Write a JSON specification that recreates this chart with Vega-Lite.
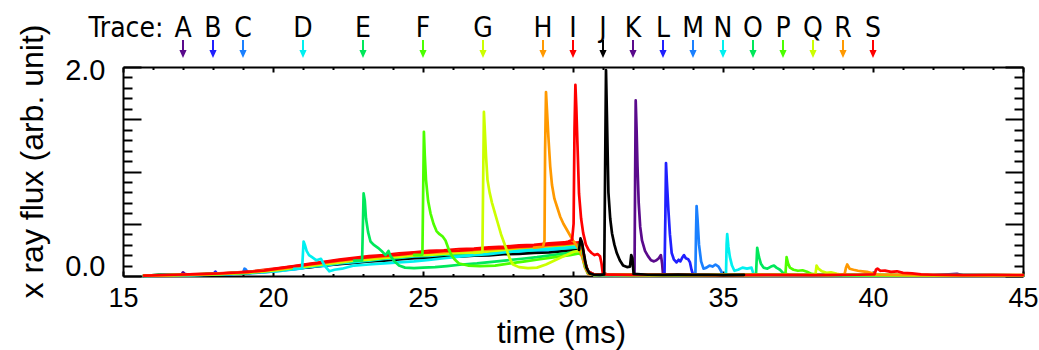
{
  "$schema": "https://vega.github.io/schema/vega-lite/v6.json",
  "width": 900,
  "height": 209,
  "autosize": {"type": "none"},
  "padding": {"left": 123, "top": 67, "right": 16, "bottom": 74},
  "background": "white",
  "config": {
    "view": {"stroke": null},
    "font": "Liberation Sans",
    "axis": {"grid": false, "domainColor": "black", "tickColor": "black", "labelColor": "black", "titleColor": "black", "labelFont": "Liberation Sans", "titleFont": "Liberation Sans", "titleFontWeight": "normal"}
  },
  "datasets": {
    "wide": [
      {"t":15.7,"A":0.003,"B":0.002,"C":0.004,"D":0.001,"E":0.003,"F":0.002,"G":0.004,"H":0.003,"I":0.004,"J":0.002,"K":0.003,"L":0.001,"M":0.003,"N":0.002,"O":0.004,"P":0.003,"Q":0.002,"R":0.004,"S":0.003},
      {"t":16.2,"A":0.006,"B":0.004,"C":0.008,"D":0.003,"E":0.007,"F":0.005,"G":0.009,"H":0.004,"I":0.007,"J":0.012,"K":0.005,"L":0.006,"M":0.003,"N":0.007,"O":0.005,"P":0.008,"Q":0.004,"R":0.006,"S":0.007},
      {"t":16.7,"A":0.012,"B":0.007,"C":0.006,"D":0.009,"E":0.010,"F":0.006,"G":0.008,"H":0.011,"I":0.010,"J":0.007,"K":0.009,"L":0.012,"M":0.006,"N":0.008,"O":0.010,"P":0.007,"Q":0.011,"R":0.009,"S":0.012},
      {"t":16.95,"A":0.014},
      {"t":17.0,"A":0.035},
      {"t":17.06,"A":0.02},
      {"t":17.2,"A":0.009,"B":0.013,"C":0.010,"D":0.008,"E":0.014,"F":0.012,"G":0.009,"H":0.013,"I":0.015,"J":0.010,"K":0.012,"L":0.011,"M":0.014,"N":0.009,"O":0.012,"P":0.013,"Q":0.010,"R":0.014,"S":0.016},
      {"t":17.7,"A":0.016,"B":0.012,"C":0.013,"D":0.011,"E":0.015,"F":0.017,"G":0.013,"H":0.016,"I":0.019,"J":0.012,"K":0.015,"L":0.017,"M":0.013,"N":0.014,"O":0.012,"P":0.018,"Q":0.015,"R":0.016,"S":0.020},
      {"t":18.0,"B":0.015},
      {"t":18.08,"B":0.042},
      {"t":18.14,"B":0.02},
      {"t":18.2,"A":0.020,"B":0.018,"C":0.016,"D":0.015,"E":0.021,"F":0.019,"G":0.020,"H":0.022,"I":0.025,"J":0.017,"K":0.019,"L":0.022,"M":0.020,"N":0.017,"O":0.019,"P":0.021,"Q":0.018,"R":0.023,"S":0.024},
      {"t":18.7,"A":0.027,"B":0.023,"C":0.021,"D":0.020,"E":0.028,"F":0.026,"G":0.024,"H":0.029,"I":0.032,"J":0.022,"K":0.027,"L":0.028,"M":0.025,"N":0.022,"O":0.024,"P":0.027,"Q":0.026,"R":0.030,"S":0.031},
      {"t":19.0,"C":0.03},
      {"t":19.05,"C":0.07},
      {"t":19.1,"C":0.06},
      {"t":19.16,"C":0.034},
      {"t":19.2,"A":0.035,"B":0.031,"C":0.028,"D":0.027,"E":0.036,"F":0.037,"G":0.033,"H":0.036,"I":0.041,"J":0.029,"K":0.034,"L":0.037,"M":0.035,"N":0.030,"O":0.032,"P":0.036,"Q":0.033,"R":0.038,"S":0.040},
      {"t":19.7,"A":0.048,"B":0.040,"C":0.034,"D":0.036,"E":0.046,"F":0.051,"G":0.042,"H":0.048,"I":0.058,"J":0.043,"K":0.045,"L":0.052,"M":0.042,"N":0.041,"O":0.047,"P":0.047,"Q":0.044,"R":0.054,"S":0.052},
      {"t":20.2,"A":0.060,"B":0.050,"C":0.050,"D":0.046,"E":0.066,"F":0.063,"G":0.056,"H":0.068,"I":0.075,"J":0.056,"K":0.060,"L":0.064,"M":0.057,"N":0.054,"O":0.061,"P":0.067,"Q":0.059,"R":0.066,"S":0.073},
      {"t":20.7,"A":0.081,"B":0.071,"C":0.062,"D":0.068,"E":0.080,"F":0.084,"G":0.074,"H":0.082,"I":0.094,"J":0.072,"K":0.078,"L":0.087,"M":0.079,"N":0.066,"O":0.075,"P":0.081,"Q":0.080,"R":0.085,"S":0.092},
      {"t":21.2,"A":0.095,"B":0.086,"C":0.085,"E":0.101,"F":0.100,"G":0.096,"H":0.104,"I":0.116,"J":0.082,"K":0.096,"L":0.102,"M":0.094,"N":0.088,"O":0.096,"P":0.104,"Q":0.095,"R":0.108,"S":0.111},
      {"t":21.7,"A":0.116,"B":0.105,"C":0.096,"E":0.114,"F":0.122,"G":0.108,"H":0.123,"I":0.136,"J":0.101,"K":0.113,"L":0.124,"M":0.115,"N":0.100,"O":0.108,"P":0.118,"Q":0.114,"R":0.122,"S":0.130},
      {"t":22.2,"A":0.128,"B":0.118,"C":0.116,"E":0.135,"F":0.135,"G":0.130,"H":0.137,"I":0.156,"J":0.114,"K":0.134,"L":0.139,"M":0.129,"N":0.120,"O":0.129,"P":0.140,"Q":0.128,"R":0.145,"S":0.149},
      {"t":22.7,"A":0.149,"B":0.137,"C":0.128,"E":0.148,"F":0.156,"G":0.142,"H":0.159,"I":0.174,"J":0.125,"K":0.148,"L":0.159,"M":0.150,"N":0.132,"O":0.144,"P":0.153,"Q":0.149,"R":0.158,"S":0.167},
      {"t":23.2,"A":0.158,"B":0.154,"C":0.143,"F":0.170,"G":0.155,"H":0.168,"I":0.190,"J":0.139,"K":0.164,"L":0.169,"M":0.167,"N":0.148,"O":0.153,"P":0.170,"Q":0.157,"R":0.177,"S":0.181},
      {"t":23.7,"A":0.174,"B":0.162,"C":0.151,"F":0.178,"G":0.171,"H":0.185,"I":0.200,"J":0.146,"K":0.173,"L":0.186,"M":0.176,"N":0.164,"O":0.169,"P":0.179,"Q":0.174,"R":0.186,"S":0.194},
      {"t":24.2,"A":0.182,"B":0.177,"C":0.166,"F":0.194,"G":0.180,"H":0.193,"I":0.217,"J":0.159,"K":0.190,"L":0.195,"M":0.191,"N":0.172,"O":0.178,"P":0.195,"Q":0.182,"R":0.203,"S":0.204},
      {"t":24.7,"A":0.197,"B":0.185,"C":0.174,"F":0.203,"G":0.194,"H":0.210,"I":0.227,"J":0.170,"K":0.198,"L":0.212,"M":0.200,"N":0.188,"O":0.194,"P":0.204,"Q":0.198,"R":0.212,"S":0.222},
      {"t":25.2,"A":0.202,"B":0.197,"C":0.185,"G":0.204,"H":0.214,"I":0.240,"J":0.172,"K":0.210,"L":0.216,"M":0.212,"N":0.192,"O":0.202,"P":0.216,"Q":0.202,"R":0.224,"S":0.226},
      {"t":25.7,"A":0.214,"B":0.202,"C":0.197,"G":0.207,"H":0.227,"I":0.245,"J":0.183,"K":0.214,"L":0.229,"M":0.216,"N":0.204,"O":0.206,"P":0.225,"Q":0.214,"R":0.229,"S":0.239},
      {"t":26.2,"A":0.217,"B":0.212,"C":0.200,"G":0.219,"H":0.230,"I":0.258,"J":0.185,"K":0.226,"L":0.232,"M":0.228,"N":0.206,"O":0.217,"P":0.228,"Q":0.221,"R":0.241,"S":0.243},
      {"t":26.7,"A":0.228,"B":0.215,"C":0.210,"G":0.222,"H":0.242,"I":0.262,"J":0.195,"K":0.229,"L":0.244,"M":0.231,"N":0.217,"O":0.220,"P":0.239,"Q":0.224,"R":0.244,"S":0.254},
      {"t":27.2,"A":0.232,"B":0.227,"C":0.214,"H":0.246,"I":0.275,"J":0.198,"K":0.241,"L":0.248,"M":0.243,"N":0.221,"O":0.232,"P":0.244,"Q":0.236,"R":0.253,"S":0.264},
      {"t":27.7,"A":0.244,"B":0.231,"C":0.225,"H":0.259,"I":0.281,"J":0.209,"K":0.245,"L":0.261,"M":0.248,"N":0.232,"O":0.236,"P":0.256,"Q":0.240,"R":0.266,"S":0.269},
      {"t":28.2,"A":0.247,"B":0.242,"C":0.228,"H":0.262,"I":0.293,"J":0.211,"K":0.256,"L":0.265,"M":0.259,"N":0.235,"O":0.247,"P":0.260,"Q":0.251,"R":0.270,"S":0.281},
      {"t":28.7,"A":0.259,"B":0.245,"C":0.239,"H":0.271,"I":0.298,"J":0.222,"K":0.260,"L":0.277,"M":0.263,"N":0.247,"O":0.250,"P":0.272,"Q":0.256,"R":0.282,"S":0.286},
      {"t":29.2,"A":0.264,"B":0.258,"C":0.244,"I":0.313,"J":0.225,"K":0.274,"L":0.283,"M":0.276,"N":0.252,"O":0.263,"P":0.278,"Q":0.269,"R":0.288,"S":0.300},
      {"t":29.7,"A":0.278,"B":0.264,"C":0.257,"I":0.321,"J":0.238,"K":0.280,"L":0.298,"M":0.283,"N":0.265,"O":0.269,"P":0.292,"Q":0.275,"R":0.303,"S":0.307},
      {"t":30.2,"A":0.287,"B":0.276,"C":0.265,"J":0.250,"K":0.294,"L":0.308,"M":0.296,"N":0.274,"O":0.282,"P":0.302,"Q":0.288,"R":0.314,"S":0.322}
    ],
    "long": [
      {"k":"A","t":30.2,"v":0.287},{"k":"A","t":30.3,"v":0.272},{"k":"A","t":30.4,"v":0.11},{"k":"A","t":30.5,"v":0.035},{"k":"A","t":30.7,"v":0.012},{"k":"A","t":32,"v":0.006},{"k":"A","t":34,"v":0.009},{"k":"A","t":36,"v":0.005},{"k":"A","t":38,"v":0.008},{"k":"A","t":40,"v":0.004},{"k":"A","t":42,"v":0.007},{"k":"A","t":42.8,"v":0.02},{"k":"A","t":43,"v":0.006},{"k":"A","t":45,"v":0.004},
      {"k":"B","t":30.2,"v":0.276},{"k":"B","t":30.3,"v":0.262},{"k":"B","t":30.4,"v":0.1},{"k":"B","t":30.5,"v":0.03},{"k":"B","t":30.7,"v":0.01},{"k":"B","t":32.5,"v":0.007},{"k":"B","t":34.5,"v":0.01},{"k":"B","t":36.5,"v":0.006},{"k":"B","t":38.5,"v":0.009},{"k":"B","t":40.5,"v":0.005},{"k":"B","t":42.5,"v":0.008},{"k":"B","t":45,"v":0.005},
      {"k":"C","t":30.2,"v":0.265},{"k":"C","t":30.3,"v":0.25},{"k":"C","t":30.4,"v":0.095},{"k":"C","t":30.5,"v":0.03},{"k":"C","t":30.7,"v":0.011},{"k":"C","t":33,"v":0.008},{"k":"C","t":35,"v":0.006},{"k":"C","t":37,"v":0.01},{"k":"C","t":39,"v":0.005},{"k":"C","t":41,"v":0.008},{"k":"C","t":43,"v":0.006},{"k":"C","t":45,"v":0.007},
      {"k":"D","t":20.7,"v":0.068},{"k":"D","t":20.97,"v":0.072},{"k":"D","t":21.02,"v":0.33},{"k":"D","t":21.06,"v":0.3},{"k":"D","t":21.12,"v":0.24},{"k":"D","t":21.2,"v":0.2},{"k":"D","t":21.3,"v":0.18},{"k":"D","t":21.45,"v":0.15},{"k":"D","t":21.6,"v":0.165},{"k":"D","t":21.72,"v":0.1},{"k":"D","t":21.88,"v":0.045},{"k":"D","t":22.05,"v":0.06},{"k":"D","t":22.3,"v":0.07},{"k":"D","t":22.7,"v":0.1},{"k":"D","t":23.2,"v":0.11},{"k":"D","t":23.7,"v":0.12},{"k":"D","t":24.2,"v":0.13},{"k":"D","t":24.7,"v":0.14},{"k":"D","t":25.2,"v":0.155},{"k":"D","t":25.7,"v":0.17},{"k":"D","t":26.2,"v":0.185},{"k":"D","t":26.7,"v":0.2},{"k":"D","t":27.2,"v":0.21},{"k":"D","t":27.7,"v":0.225},{"k":"D","t":28.2,"v":0.24},{"k":"D","t":28.7,"v":0.25},{"k":"D","t":29.2,"v":0.26},{"k":"D","t":29.7,"v":0.27},{"k":"D","t":30.2,"v":0.285},{"k":"D","t":30.3,"v":0.27},{"k":"D","t":30.4,"v":0.11},{"k":"D","t":30.5,"v":0.03},{"k":"D","t":30.7,"v":0.01},{"k":"D","t":33,"v":0.006},{"k":"D","t":36,"v":0.009},{"k":"D","t":39,"v":0.005},{"k":"D","t":42,"v":0.007},{"k":"D","t":45,"v":0.005},
      {"k":"E","t":22.7,"v":0.148},{"k":"E","t":22.97,"v":0.15},{"k":"E","t":23.02,"v":0.79},{"k":"E","t":23.06,"v":0.72},{"k":"E","t":23.1,"v":0.55},{"k":"E","t":23.17,"v":0.42},{"k":"E","t":23.25,"v":0.33},{"k":"E","t":23.35,"v":0.3},{"k":"E","t":23.5,"v":0.27},{"k":"E","t":23.62,"v":0.24},{"k":"E","t":23.75,"v":0.2},{"k":"E","t":23.85,"v":0.24},{"k":"E","t":23.92,"v":0.19},{"k":"E","t":24.05,"v":0.14},{"k":"E","t":24.2,"v":0.1},{"k":"E","t":24.4,"v":0.08},{"k":"E","t":24.7,"v":0.075},{"k":"E","t":25.0,"v":0.08},{"k":"E","t":25.4,"v":0.085},{"k":"E","t":25.8,"v":0.095},{"k":"E","t":26.3,"v":0.11},{"k":"E","t":26.8,"v":0.12},{"k":"E","t":27.3,"v":0.135},{"k":"E","t":27.8,"v":0.15},{"k":"E","t":28.3,"v":0.165},{"k":"E","t":28.8,"v":0.18},{"k":"E","t":29.3,"v":0.2},{"k":"E","t":29.8,"v":0.22},{"k":"E","t":30.2,"v":0.24},{"k":"E","t":30.3,"v":0.23},{"k":"E","t":30.4,"v":0.1},{"k":"E","t":30.5,"v":0.03},{"k":"E","t":30.7,"v":0.01},{"k":"E","t":33,"v":0.007},{"k":"E","t":36,"v":0.005},{"k":"E","t":39,"v":0.009},{"k":"E","t":42,"v":0.006},{"k":"E","t":45,"v":0.005},
      {"k":"F","t":24.7,"v":0.203},{"k":"F","t":24.98,"v":0.205},{"k":"F","t":25.03,"v":1.38},{"k":"F","t":25.06,"v":1.15},{"k":"F","t":25.1,"v":0.92},{"k":"F","t":25.17,"v":0.72},{"k":"F","t":25.25,"v":0.6},{"k":"F","t":25.35,"v":0.5},{"k":"F","t":25.45,"v":0.43},{"k":"F","t":25.55,"v":0.4},{"k":"F","t":25.65,"v":0.38},{"k":"F","t":25.75,"v":0.34},{"k":"F","t":25.85,"v":0.26},{"k":"F","t":25.95,"v":0.2},{"k":"F","t":26.05,"v":0.16},{"k":"F","t":26.2,"v":0.12},{"k":"F","t":26.5,"v":0.1},{"k":"F","t":26.9,"v":0.095},{"k":"F","t":27.4,"v":0.1},{"k":"F","t":27.9,"v":0.12},{"k":"F","t":28.4,"v":0.14},{"k":"F","t":28.9,"v":0.16},{"k":"F","t":29.4,"v":0.18},{"k":"F","t":29.9,"v":0.2},{"k":"F","t":30.2,"v":0.215},{"k":"F","t":30.3,"v":0.2},{"k":"F","t":30.4,"v":0.09},{"k":"F","t":30.5,"v":0.03},{"k":"F","t":30.7,"v":0.01},{"k":"F","t":33,"v":0.006},{"k":"F","t":36,"v":0.008},{"k":"F","t":39,"v":0.005},{"k":"F","t":42,"v":0.007},{"k":"F","t":45,"v":0.006},
      {"k":"G","t":26.7,"v":0.222},{"k":"G","t":26.98,"v":0.228},{"k":"G","t":27.03,"v":1.57},{"k":"G","t":27.06,"v":1.4},{"k":"G","t":27.1,"v":1.15},{"k":"G","t":27.15,"v":0.92},{"k":"G","t":27.22,"v":0.8},{"k":"G","t":27.3,"v":0.7},{"k":"G","t":27.4,"v":0.6},{"k":"G","t":27.5,"v":0.5},{"k":"G","t":27.6,"v":0.4},{"k":"G","t":27.7,"v":0.32},{"k":"G","t":27.8,"v":0.24},{"k":"G","t":27.9,"v":0.16},{"k":"G","t":28.0,"v":0.11},{"k":"G","t":28.2,"v":0.085},{"k":"G","t":28.5,"v":0.075},{"k":"G","t":28.8,"v":0.08},{"k":"G","t":29.1,"v":0.11},{"k":"G","t":29.4,"v":0.15},{"k":"G","t":29.7,"v":0.19},{"k":"G","t":30.0,"v":0.23},{"k":"G","t":30.2,"v":0.24},{"k":"G","t":30.3,"v":0.22},{"k":"G","t":30.4,"v":0.1},{"k":"G","t":30.5,"v":0.03},{"k":"G","t":30.7,"v":0.01},{"k":"G","t":33,"v":0.008},{"k":"G","t":36,"v":0.006},{"k":"G","t":39,"v":0.007},{"k":"G","t":42,"v":0.005},{"k":"G","t":45,"v":0.006},
      {"k":"H","t":28.7,"v":0.271},{"k":"H","t":29.0,"v":0.28},{"k":"H","t":29.05,"v":0.34},{"k":"H","t":29.07,"v":1.2},{"k":"H","t":29.1,"v":1.76},{"k":"H","t":29.13,"v":1.6},{"k":"H","t":29.18,"v":1.33},{"k":"H","t":29.24,"v":1.05},{"k":"H","t":29.3,"v":0.87},{"k":"H","t":29.38,"v":0.74},{"k":"H","t":29.47,"v":0.66},{"k":"H","t":29.57,"v":0.57},{"k":"H","t":29.68,"v":0.5},{"k":"H","t":29.8,"v":0.44},{"k":"H","t":29.9,"v":0.39},{"k":"H","t":30.0,"v":0.34},{"k":"H","t":30.1,"v":0.3},{"k":"H","t":30.22,"v":0.25},{"k":"H","t":30.32,"v":0.17},{"k":"H","t":30.4,"v":0.08},{"k":"H","t":30.5,"v":0.02},{"k":"H","t":30.7,"v":0.01},{"k":"H","t":33,"v":0.007},{"k":"H","t":36,"v":0.005},{"k":"H","t":39,"v":0.008},{"k":"H","t":42,"v":0.006},{"k":"H","t":45,"v":0.005},
      {"k":"I","t":29.7,"v":0.321},{"k":"I","t":29.85,"v":0.33},{"k":"I","t":29.97,"v":0.345},{"k":"I","t":30.02,"v":0.5},{"k":"I","t":30.05,"v":1.4},{"k":"I","t":30.08,"v":1.83},{"k":"I","t":30.11,"v":1.62},{"k":"I","t":30.15,"v":1.25},{"k":"I","t":30.2,"v":0.79},{"k":"I","t":30.27,"v":0.55},{"k":"I","t":30.34,"v":0.41},{"k":"I","t":30.43,"v":0.3},{"k":"I","t":30.52,"v":0.25},{"k":"I","t":30.62,"v":0.22},{"k":"I","t":30.72,"v":0.2},{"k":"I","t":30.82,"v":0.21},{"k":"I","t":30.9,"v":0.19},{"k":"I","t":30.95,"v":0.12},{"k":"I","t":30.99,"v":0.03},{"k":"I","t":31.2,"v":0.01},{"k":"I","t":33,"v":0.008},{"k":"I","t":36,"v":0.006},{"k":"I","t":39,"v":0.009},{"k":"I","t":42,"v":0.007},{"k":"I","t":45,"v":0.006},
      {"k":"K","t":30.2,"v":0.294},{"k":"K","t":30.3,"v":0.28},{"k":"K","t":30.4,"v":0.12},{"k":"K","t":30.5,"v":0.04},{"k":"K","t":30.7,"v":0.015},{"k":"K","t":31.3,"v":0.01},{"k":"K","t":31.8,"v":0.012},{"k":"K","t":32.05,"v":0.015},{"k":"K","t":32.07,"v":0.9},{"k":"K","t":32.09,"v":1.68},{"k":"K","t":32.12,"v":1.4},{"k":"K","t":32.15,"v":1.05},{"k":"K","t":32.19,"v":0.7},{"k":"K","t":32.24,"v":0.47},{"k":"K","t":32.3,"v":0.34},{"k":"K","t":32.4,"v":0.24},{"k":"K","t":32.5,"v":0.19},{"k":"K","t":32.6,"v":0.15},{"k":"K","t":32.7,"v":0.14},{"k":"K","t":32.78,"v":0.15},{"k":"K","t":32.86,"v":0.17},{"k":"K","t":32.93,"v":0.2},{"k":"K","t":32.97,"v":0.12},{"k":"K","t":33.0,"v":0.015},{"k":"K","t":34,"v":0.01},{"k":"K","t":36,"v":0.006},{"k":"K","t":38,"v":0.008},{"k":"K","t":40,"v":0.005},{"k":"K","t":42,"v":0.007},{"k":"K","t":45,"v":0.005},
      {"k":"L","t":30.2,"v":0.308},{"k":"L","t":30.3,"v":0.29},{"k":"L","t":30.4,"v":0.125},{"k":"L","t":30.5,"v":0.04},{"k":"L","t":30.7,"v":0.014},{"k":"L","t":31.5,"v":0.01},{"k":"L","t":32.5,"v":0.012},{"k":"L","t":33.05,"v":0.015},{"k":"L","t":33.08,"v":0.6},{"k":"L","t":33.1,"v":1.08},{"k":"L","t":33.13,"v":0.9},{"k":"L","t":33.18,"v":0.63},{"k":"L","t":33.23,"v":0.4},{"k":"L","t":33.29,"v":0.22},{"k":"L","t":33.36,"v":0.16},{"k":"L","t":33.45,"v":0.13},{"k":"L","t":33.52,"v":0.155},{"k":"L","t":33.58,"v":0.14},{"k":"L","t":33.65,"v":0.18},{"k":"L","t":33.7,"v":0.2},{"k":"L","t":33.76,"v":0.17},{"k":"L","t":33.84,"v":0.16},{"k":"L","t":33.9,"v":0.13},{"k":"L","t":33.95,"v":0.06},{"k":"L","t":34.0,"v":0.015},{"k":"L","t":35,"v":0.01},{"k":"L","t":37,"v":0.007},{"k":"L","t":39,"v":0.009},{"k":"L","t":41,"v":0.005},{"k":"L","t":43,"v":0.008},{"k":"L","t":45,"v":0.006},
      {"k":"M","t":30.2,"v":0.296},{"k":"M","t":30.3,"v":0.28},{"k":"M","t":30.4,"v":0.12},{"k":"M","t":30.5,"v":0.038},{"k":"M","t":30.7,"v":0.013},{"k":"M","t":31.5,"v":0.009},{"k":"M","t":32.5,"v":0.011},{"k":"M","t":33.5,"v":0.008},{"k":"M","t":34.08,"v":0.015},{"k":"M","t":34.1,"v":0.4},{"k":"M","t":34.12,"v":0.67},{"k":"M","t":34.15,"v":0.55},{"k":"M","t":34.2,"v":0.3},{"k":"M","t":34.27,"v":0.14},{"k":"M","t":34.35,"v":0.07},{"k":"M","t":34.45,"v":0.08},{"k":"M","t":34.55,"v":0.1},{"k":"M","t":34.65,"v":0.09},{"k":"M","t":34.75,"v":0.11},{"k":"M","t":34.85,"v":0.09},{"k":"M","t":34.93,"v":0.05},{"k":"M","t":34.98,"v":0.015},{"k":"M","t":36,"v":0.008},{"k":"M","t":38,"v":0.006},{"k":"M","t":40,"v":0.009},{"k":"M","t":42,"v":0.005},{"k":"M","t":45,"v":0.007},
      {"k":"N","t":30.2,"v":0.274},{"k":"N","t":30.3,"v":0.26},{"k":"N","t":30.4,"v":0.11},{"k":"N","t":30.5,"v":0.035},{"k":"N","t":30.7,"v":0.012},{"k":"N","t":31.8,"v":0.008},{"k":"N","t":33,"v":0.011},{"k":"N","t":34.2,"v":0.009},{"k":"N","t":35.1,"v":0.015},{"k":"N","t":35.12,"v":0.3},{"k":"N","t":35.14,"v":0.4},{"k":"N","t":35.18,"v":0.28},{"k":"N","t":35.23,"v":0.18},{"k":"N","t":35.3,"v":0.1},{"k":"N","t":35.38,"v":0.05},{"k":"N","t":35.5,"v":0.06},{"k":"N","t":35.65,"v":0.08},{"k":"N","t":35.8,"v":0.07},{"k":"N","t":35.95,"v":0.08},{"k":"N","t":36.02,"v":0.015},{"k":"N","t":37.5,"v":0.008},{"k":"N","t":39.5,"v":0.006},{"k":"N","t":41.5,"v":0.009},{"k":"N","t":43.5,"v":0.005},{"k":"N","t":45,"v":0.007},
      {"k":"O","t":30.2,"v":0.282},{"k":"O","t":30.3,"v":0.27},{"k":"O","t":30.4,"v":0.11},{"k":"O","t":30.5,"v":0.036},{"k":"O","t":30.7,"v":0.012},{"k":"O","t":32,"v":0.009},{"k":"O","t":33.5,"v":0.011},{"k":"O","t":35,"v":0.008},{"k":"O","t":36.1,"v":0.014},{"k":"O","t":36.14,"v":0.27},{"k":"O","t":36.2,"v":0.18},{"k":"O","t":36.26,"v":0.12},{"k":"O","t":36.35,"v":0.08},{"k":"O","t":36.48,"v":0.07},{"k":"O","t":36.6,"v":0.09},{"k":"O","t":36.7,"v":0.1},{"k":"O","t":36.78,"v":0.08},{"k":"O","t":36.9,"v":0.06},{"k":"O","t":37.0,"v":0.03},{"k":"O","t":37.2,"v":0.012},{"k":"O","t":39,"v":0.008},{"k":"O","t":41,"v":0.006},{"k":"O","t":43,"v":0.009},{"k":"O","t":45,"v":0.005},
      {"k":"P","t":30.2,"v":0.302},{"k":"P","t":30.3,"v":0.285},{"k":"P","t":30.4,"v":0.12},{"k":"P","t":30.5,"v":0.04},{"k":"P","t":30.7,"v":0.013},{"k":"P","t":32.3,"v":0.01},{"k":"P","t":34,"v":0.008},{"k":"P","t":35.8,"v":0.011},{"k":"P","t":37.08,"v":0.014},{"k":"P","t":37.12,"v":0.18},{"k":"P","t":37.17,"v":0.12},{"k":"P","t":37.23,"v":0.08},{"k":"P","t":37.35,"v":0.06},{"k":"P","t":37.5,"v":0.05},{"k":"P","t":37.65,"v":0.055},{"k":"P","t":37.8,"v":0.04},{"k":"P","t":37.95,"v":0.02},{"k":"P","t":38.2,"v":0.01},{"k":"P","t":40,"v":0.008},{"k":"P","t":42,"v":0.006},{"k":"P","t":44,"v":0.009},{"k":"P","t":45,"v":0.006},
      {"k":"Q","t":30.2,"v":0.288},{"k":"Q","t":30.3,"v":0.275},{"k":"Q","t":30.4,"v":0.115},{"k":"Q","t":30.5,"v":0.037},{"k":"Q","t":30.7,"v":0.012},{"k":"Q","t":32.5,"v":0.009},{"k":"Q","t":34.5,"v":0.011},{"k":"Q","t":36.5,"v":0.008},{"k":"Q","t":38.08,"v":0.013},{"k":"Q","t":38.12,"v":0.1},{"k":"Q","t":38.18,"v":0.07},{"k":"Q","t":38.3,"v":0.045},{"k":"Q","t":38.45,"v":0.03},{"k":"Q","t":38.6,"v":0.035},{"k":"Q","t":38.8,"v":0.02},{"k":"Q","t":39.0,"v":0.01},{"k":"Q","t":41,"v":0.008},{"k":"Q","t":43,"v":0.006},{"k":"Q","t":45,"v":0.008},
      {"k":"R","t":30.2,"v":0.314},{"k":"R","t":30.3,"v":0.3},{"k":"R","t":30.4,"v":0.13},{"k":"R","t":30.5,"v":0.042},{"k":"R","t":30.7,"v":0.014},{"k":"R","t":32.5,"v":0.01},{"k":"R","t":34.5,"v":0.008},{"k":"R","t":36.5,"v":0.011},{"k":"R","t":38.5,"v":0.009},{"k":"R","t":39.05,"v":0.014},{"k":"R","t":39.1,"v":0.08},{"k":"R","t":39.14,"v":0.11},{"k":"R","t":39.22,"v":0.07},{"k":"R","t":39.35,"v":0.06},{"k":"R","t":39.5,"v":0.05},{"k":"R","t":39.65,"v":0.045},{"k":"R","t":39.8,"v":0.04},{"k":"R","t":39.95,"v":0.028},{"k":"R","t":40.1,"v":0.014},{"k":"R","t":42,"v":0.008},{"k":"R","t":44,"v":0.006},{"k":"R","t":45,"v":0.008},
      {"k":"S","t":30.2,"v":0.322},{"k":"S","t":30.3,"v":0.31},{"k":"S","t":30.4,"v":0.135},{"k":"S","t":30.5,"v":0.045},{"k":"S","t":30.7,"v":0.015},{"k":"S","t":32,"v":0.01},{"k":"S","t":33.5,"v":0.012},{"k":"S","t":35,"v":0.008},{"k":"S","t":36.5,"v":0.011},{"k":"S","t":38,"v":0.009},{"k":"S","t":39.5,"v":0.012},{"k":"S","t":40.05,"v":0.015},{"k":"S","t":40.1,"v":0.06},{"k":"S","t":40.15,"v":0.07},{"k":"S","t":40.25,"v":0.05},{"k":"S","t":40.4,"v":0.052},{"k":"S","t":40.6,"v":0.04},{"k":"S","t":40.8,"v":0.045},{"k":"S","t":41.0,"v":0.03},{"k":"S","t":41.3,"v":0.025},{"k":"S","t":41.6,"v":0.015},{"k":"S","t":42,"v":0.012},{"k":"S","t":43,"v":0.009},{"k":"S","t":44,"v":0.011},{"k":"S","t":45,"v":0.008},
      {"k":"J","t":30.2,"v":0.25},{"k":"J","t":30.25,"v":0.36},{"k":"J","t":30.3,"v":0.32},{"k":"J","t":30.37,"v":0.2},{"k":"J","t":30.45,"v":0.08},{"k":"J","t":30.55,"v":0.025},{"k":"J","t":30.7,"v":0.012},{"k":"J","t":30.9,"v":0.01},{"k":"J","t":31.04,"v":0.015},{"k":"J","t":31.07,"v":1.0},{"k":"J","t":31.1,"v":1.97},{"k":"J","t":31.13,"v":1.55},{"k":"J","t":31.18,"v":0.8},{"k":"J","t":31.24,"v":0.55},{"k":"J","t":31.3,"v":0.41},{"k":"J","t":31.38,"v":0.3},{"k":"J","t":31.46,"v":0.22},{"k":"J","t":31.56,"v":0.15},{"k":"J","t":31.67,"v":0.1},{"k":"J","t":31.8,"v":0.085},{"k":"J","t":31.9,"v":0.09},{"k":"J","t":31.94,"v":0.2},{"k":"J","t":31.98,"v":0.17},{"k":"J","t":32.02,"v":0.02},{"k":"J","t":32.5,"v":0.012},{"k":"J","t":33,"v":0.01},{"k":"J","t":33.5,"v":0.014},{"k":"J","t":34,"v":0.01},{"k":"J","t":34.5,"v":0.012},{"k":"J","t":35,"v":0.009},{"k":"J","t":35.7,"v":0.011}
    ],
    "labels": [
      {"k":"Trace:","t":15.1},
      {"k":"A","t":17},{"k":"B","t":18},{"k":"C","t":19},{"k":"D","t":21},{"k":"E","t":23},{"k":"F","t":25},{"k":"G","t":27},{"k":"H","t":29},{"k":"I","t":30},{"k":"J","t":31},{"k":"K","t":32},{"k":"L","t":33},{"k":"M","t":34},{"k":"N","t":35},{"k":"O","t":36},{"k":"P","t":37},{"k":"Q","t":38},{"k":"R","t":39},{"k":"S","t":40}
    ]
  },
  "resolve": {"scale": {"x": "independent", "y": "independent"}},
  "layer": [
    {
      "data": {"name": "wide"},
      "transform": [
        {"fold": ["A","B","C","D","E","F","G","H","I","J","K","L","M","N","O","P","Q","R","S"], "as": ["k", "v"]},
        {"filter": "isValid(datum.v)"}
      ],
      "mark": {"type": "line", "strokeWidth": 2.7, "strokeJoin": "round", "strokeCap": "round"},
      "encoding": {
        "x": {"field": "t", "type": "quantitative", "scale": {"domain": [15, 45], "nice": false, "zero": false},
          "axis": {"orient": "bottom", "values": [15,20,25,30,35,40,45], "format": "d", "tickSize": -5, "tickWidth": 2, "domainWidth": 2, "labelFontSize": 27, "labelPadding": 35, "labelBaseline": "alphabetic", "labelFlush": false, "labelOverlap": false, "title": "time (ms)", "titleFontSize": 31, "titleX": 438, "titleY": 66, "titleBaseline": "alphabetic", "titleAlign": "center"}},
        "y": {"field": "v", "type": "quantitative", "scale": {"domain": [0, 2], "nice": false, "zero": false},
          "axis": {"orient": "left", "values": [0, 0.5, 1, 1.5, 2], "labelExpr": "datum.value == 0 ? '0.0' : (datum.value == 2 ? '2.0' : '')", "tickSize": -18, "tickWidth": 2, "domainWidth": 2, "labelFontSize": 29, "labelPadding": 36, "labelBaseline": "middle", "labelFlush": false, "labelOverlap": false, "labelOffset": {"condition": {"test": "datum.value == 0", "value": -10}, "value": 3}, "title": "x ray flux (arb. unit)", "titleFontSize": 32, "titleX": -81, "titleY": 94, "titleBaseline": "alphabetic", "titleAlign": "center", "titleAngle": 270}},
        "color": {"field": "k", "type": "nominal", "legend": null,
          "scale": {"domain": ["A","B","C","D","E","F","G","H","I","J","K","L","M","N","O","P","Q","R","S"],
            "range": ["#5a0a8c","#2020ff","#1a80ff","#00f0f0","#00e85a","#4cff00","#ccff00","#ff9900","#ff0000","#000000","#5a0a8c","#2020ff","#1a80ff","#00f0f0","#00e85a","#4cff00","#ccff00","#ff9900","#ff0000"]}}
      }
    },
    {
      "data": {"name": "long"},
      "mark": {"type": "line", "strokeWidth": 2.7, "strokeJoin": "round", "strokeCap": "round"},
      "encoding": {
        "x": {"field": "t", "type": "quantitative", "scale": {"domain": [15, 45], "nice": false, "zero": false},
          "axis": {"orient": "top", "values": [15,20,25,30,35,40,45], "tickSize": -5, "tickWidth": 2, "domainWidth": 2, "labels": false, "title": null}},
        "y": {"field": "v", "type": "quantitative", "scale": {"domain": [0, 2], "nice": false, "zero": false},
          "axis": {"orient": "right", "values": [0, 0.5, 1, 1.5, 2], "tickSize": -18, "tickWidth": 2, "domainWidth": 2, "labels": false, "title": null}},
        "color": {"field": "k", "type": "nominal", "legend": null,
          "scale": {"domain": ["A","B","C","D","E","F","G","H","I","J","K","L","M","N","O","P","Q","R","S"],
            "range": ["#5a0a8c","#2020ff","#1a80ff","#00f0f0","#00e85a","#4cff00","#ccff00","#ff9900","#ff0000","#000000","#5a0a8c","#2020ff","#1a80ff","#00f0f0","#00e85a","#4cff00","#ccff00","#ff9900","#ff0000"]}}
      }
    },
    {
      "data": {"name": "labels"},
      "mark": {"type": "text", "font": "DejaVu Sans Condensed, Liberation Sans Narrow, Liberation Sans, sans-serif", "fontSize": 28, "baseline": "alphabetic", "align": "center", "dy": -30, "color": "black"},
      "encoding": {
        "x": {"field": "t", "type": "quantitative", "scale": {"domain": [15, 45], "nice": false, "zero": false},
          "axis": {"orient": "bottom", "values": [16,17,18,19,21,22,23,24,26,27,28,29,31,32,33,34,36,37,38,39,41,42,43,44], "tickSize": -2.5, "tickWidth": 2, "domain": false, "labels": false, "title": null}},
        "y": {"datum": 2, "type": "quantitative", "scale": {"domain": [0, 2], "nice": false, "zero": false},
          "axis": {"orient": "left", "values": [0.1,0.2,0.3,0.4,0.6,0.7,0.8,0.9,1.1,1.2,1.3,1.4,1.6,1.7,1.8,1.9], "tickSize": -9, "tickWidth": 2, "domain": false, "labels": false, "title": null}},
        "text": {"field": "k"}
      }
    },
    {
      "data": {"name": "labels"},
      "transform": [{"filter": "datum.k != 'Trace:'"}],
      "mark": {"type": "point", "shape": "M-0.11,-1L0.11,-1L0.11,0.1L0.4,0.1L0,1L-0.4,0.1L-0.11,0.1Z", "size": 324, "filled": true, "opacity": 1, "yOffset": -18},
      "encoding": {
        "x": {"field": "t", "type": "quantitative", "scale": {"domain": [15, 45], "nice": false, "zero": false},
          "axis": {"orient": "top", "values": [16,17,18,19,21,22,23,24,26,27,28,29,31,32,33,34,36,37,38,39,41,42,43,44], "tickSize": -2.5, "tickWidth": 2, "domain": false, "labels": false, "title": null}},
        "y": {"datum": 2, "type": "quantitative", "scale": {"domain": [0, 2], "nice": false, "zero": false},
          "axis": {"orient": "right", "values": [0.1,0.2,0.3,0.4,0.6,0.7,0.8,0.9,1.1,1.2,1.3,1.4,1.6,1.7,1.8,1.9], "tickSize": -9, "tickWidth": 2, "domain": false, "labels": false, "title": null}},
        "color": {"field": "k", "type": "nominal", "legend": null,
          "scale": {"domain": ["A","B","C","D","E","F","G","H","I","J","K","L","M","N","O","P","Q","R","S"],
            "range": ["#5a0a8c","#2020ff","#1a80ff","#00f0f0","#00e85a","#4cff00","#ccff00","#ff9900","#ff0000","#000000","#5a0a8c","#2020ff","#1a80ff","#00f0f0","#00e85a","#4cff00","#ccff00","#ff9900","#ff0000"]}}
      }
    }
  ]
}
